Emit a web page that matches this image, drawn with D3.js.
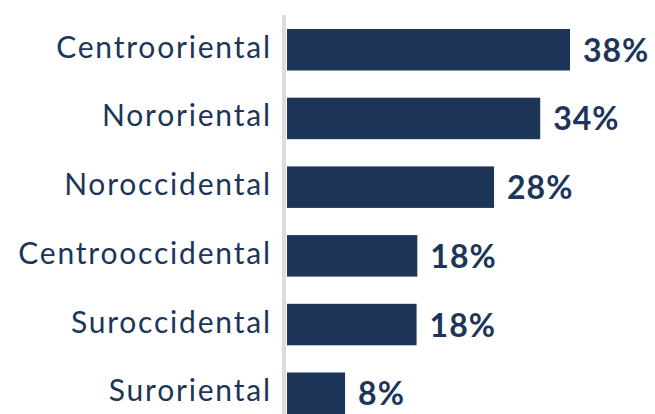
<!DOCTYPE html>
<html><head><meta charset="utf-8">
<script src="https://cdn.jsdelivr.net/npm/d3@7"></script>
<style>html,body{margin:0;padding:0;background:#fff;overflow:hidden}</style>
</head><body>
<svg id="chart" width="655" height="414"></svg>
<script>
const categories = ["Centrooriental","Nororiental","Noroccidental","Centrooccidental","Suroccidental","Suroriental"];
const values = [38, 34, 27.8, 17.5, 17.4, 7.8];
const valueLabels = ["38%","34%","28%","18%","18%","8%"];

const navy = "#1c3558";
const svg = d3.select("#chart");
const x0 = 287;
const x = d3.scaleLinear().domain([0, 38]).range([x0, 570]);
const y = d3.scaleBand().domain(categories).range([29, 414]).paddingInner(0.396).paddingOuter(0);

svg.append("line").attr("x1",284).attr("x2",284).attr("y1",15).attr("y2",414)
  .attr("stroke","#dcdcdc").attr("stroke-width",4);

svg.selectAll("rect.bar").data(categories).join("rect").attr("class","bar")
  .attr("x", x0).attr("y", d => y(d))
  .attr("width", (d,i) => x(values[i]) - x0).attr("height", y.bandwidth())
  .attr("fill", navy);

const ls = 1.8;
svg.selectAll("text.cat").data(categories).join("text").attr("class","cat")
  .attr("x", 270 + ls).attr("y", d => y(d) + y.bandwidth()/2 + 8)
  .attr("text-anchor","end").attr("fill", navy)
  .style("font-family","Lato").style("font-size","30px").style("letter-spacing", ls + "px")
  .text(d => d);

svg.selectAll("text.val").data(categories).join("text").attr("class","val")
  .attr("x", (d,i) => x(values[i]) + 13).attr("y", d => y(d) + y.bandwidth()/2 + 12)
  .attr("fill", navy)
  .style("font-family","Lato").style("font-weight","bold").style("font-size","32px").style("letter-spacing","1px")
  .text((d,i) => valueLabels[i]);
</script>
</body></html>
